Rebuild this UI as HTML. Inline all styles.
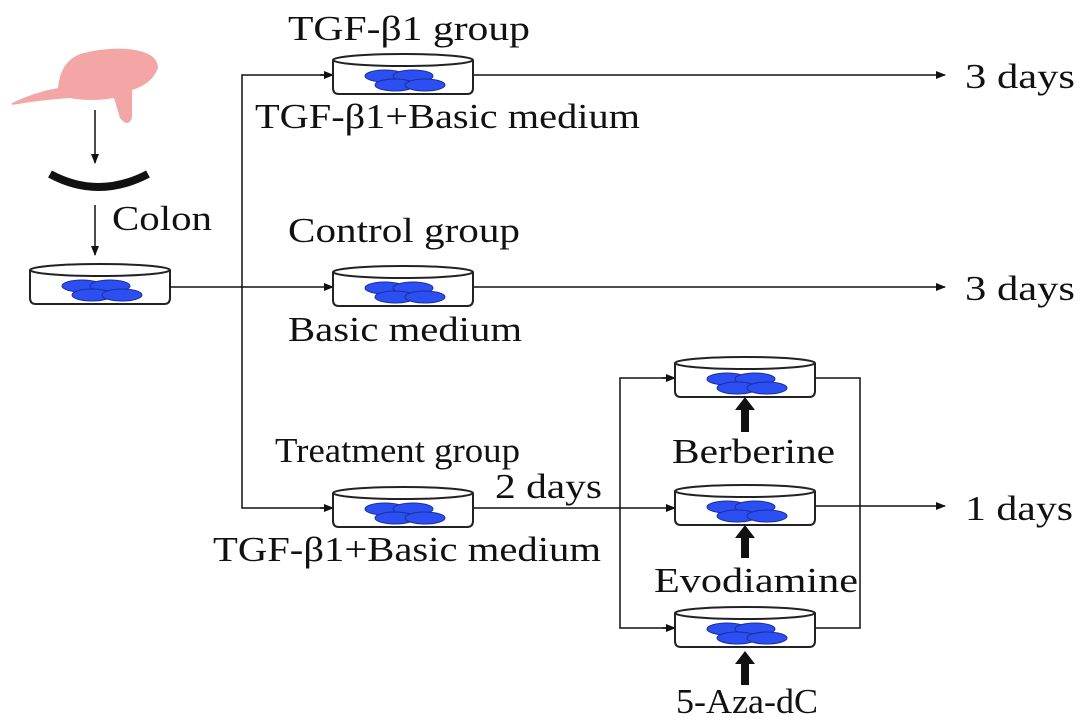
<!DOCTYPE html>
<html><head><meta charset="utf-8"><style>html,body{margin:0;padding:0;background:#fff}svg{display:block}text{font-family:"Liberation Serif",serif;font-size:35px;fill:#111}</style></head>
<body>
<svg width="1087" height="722" viewBox="0 0 1087 722" xmlns="http://www.w3.org/2000/svg">
<defs>
<marker id="a" markerWidth="10" markerHeight="8" refX="9" refY="4" orient="auto" markerUnits="userSpaceOnUse"><path d="M0,0 L10,4 L0,8 Z" fill="#111"/></marker>
<g id="dish">
<path d="M-70,0 L-70,28 Q-70,34 -64,34 L64,34 Q70,34 70,28 L70,0" fill="#fff" stroke="#222" stroke-width="2"/>
<ellipse cx="0" cy="0" rx="70" ry="6" fill="#fff" stroke="#222" stroke-width="2"/>
<ellipse cx="-18" cy="16" rx="20" ry="6" fill="#2b4ff0" stroke="#1a2fa0"/>
<ellipse cx="10" cy="16" rx="20" ry="6" fill="#2b4ff0" stroke="#1a2fa0"/>
<ellipse cx="-8" cy="25" rx="20" ry="6" fill="#2b4ff0" stroke="#1a2fa0"/>
<ellipse cx="22" cy="25" rx="20" ry="6" fill="#2b4ff0" stroke="#1a2fa0"/>
</g>
</defs>
<g fill="#f4a6a6">
<path d="M12,103 Q35,92 58,88 Q60,62 80,54 Q110,46 135,50 Q158,54 158,68 Q152,84 132,90 L132,118 Q128,128 120,118 L114,98 Q90,102 70,98 Q40,100 12,105 Z"/>
</g>
<line x1="95" y1="110" x2="95" y2="163" stroke="#111" stroke-width="1.5" marker-end="url(#a)"/>
<path d="M50,174 Q98,200 148,174" fill="none" stroke="#111" stroke-width="8"/>
<line x1="95" y1="205" x2="95" y2="255" stroke="#111" stroke-width="1.5" marker-end="url(#a)"/>
<text x="112" y="230" textLength="100" lengthAdjust="spacingAndGlyphs">Colon</text>
<use href="#dish" x="100" y="270"/>
<g stroke="#111" stroke-width="1.5" fill="none">
<line x1="170" y1="287" x2="333" y2="287" marker-end="url(#a)"/>
<polyline points="333,75 242,75 242,508 333,508"/>
<line x1="320" y1="75" x2="333" y2="75" marker-end="url(#a)"/>
<line x1="320" y1="508" x2="333" y2="508" marker-end="url(#a)"/>
<line x1="473" y1="75" x2="945" y2="75" marker-end="url(#a)"/>
<line x1="473" y1="287" x2="945" y2="287" marker-end="url(#a)"/>
<line x1="473" y1="508" x2="675" y2="508" marker-end="url(#a)"/>
<polyline points="675,378 620,378 620,628 675,628"/>
<line x1="662" y1="378" x2="675" y2="378" marker-end="url(#a)"/>
<line x1="662" y1="628" x2="675" y2="628" marker-end="url(#a)"/>
<polyline points="815,378 860,378 860,628 815,628"/>
<line x1="815" y1="506" x2="945" y2="506" marker-end="url(#a)"/>
</g>
<use href="#dish" x="403" y="60"/>
<use href="#dish" x="403" y="272"/>
<use href="#dish" x="403" y="493"/>
<use href="#dish" x="745" y="363"/>
<use href="#dish" x="745" y="491"/>
<use href="#dish" x="745" y="613"/>
<g fill="#111">
<path d="M741,432 L741,410 L735,410 L745,397 L755,410 L749,410 L749,432 Z"/>
<path d="M741,558 L741,538 L735,538 L745,525 L755,538 L749,538 L749,558 Z"/>
<path d="M741,685 L741,664 L735,664 L745,651 L755,664 L749,664 L749,685 Z"/>
</g>
<g lengthAdjust="spacingAndGlyphs">
<text x="288" y="40" textLength="242" lengthAdjust="spacingAndGlyphs">TGF-β1 group</text>
<text x="255" y="128" textLength="385" lengthAdjust="spacingAndGlyphs">TGF-β1+Basic medium</text>
<text x="288" y="242" textLength="232" lengthAdjust="spacingAndGlyphs">Control group</text>
<text x="288" y="341" textLength="234" lengthAdjust="spacingAndGlyphs">Basic medium</text>
<text x="275" y="462" textLength="245" lengthAdjust="spacingAndGlyphs">Treatment group</text>
<text x="495" y="498" textLength="107" lengthAdjust="spacingAndGlyphs">2 days</text>
<text x="213" y="561" textLength="388" lengthAdjust="spacingAndGlyphs">TGF-β1+Basic medium</text>
<text x="672" y="463" textLength="163" lengthAdjust="spacingAndGlyphs">Berberine</text>
<text x="654" y="592" textLength="204" lengthAdjust="spacingAndGlyphs">Evodiamine</text>
<text x="676" y="713" textLength="142" lengthAdjust="spacingAndGlyphs">5-Aza-dC</text>
<text x="965" y="88" textLength="110" lengthAdjust="spacingAndGlyphs">3 days</text>
<text x="965" y="300" textLength="110" lengthAdjust="spacingAndGlyphs">3 days</text>
<text x="965" y="520" textLength="108" lengthAdjust="spacingAndGlyphs">1 days</text>
</g>
</svg>
</body></html>
